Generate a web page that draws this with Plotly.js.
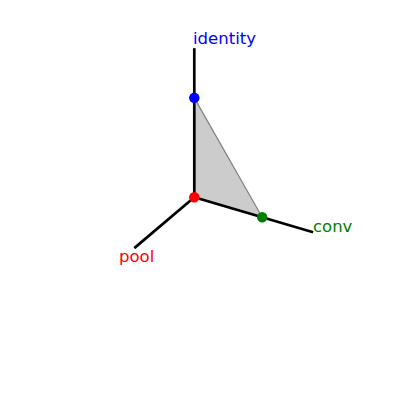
<!DOCTYPE html>
<html><head><meta charset="utf-8">
<script src="https://cdn.plot.ly/plotly-3.0.1.min.js"></script>
<style>html,body{margin:0;padding:0;background:#fff}#c{width:400px;height:400px}</style>
</head><body><div id="c"></div>
<script>
// Axis names (3D axes: pool, conv, identity)
const axisNames = ['pool', 'conv', 'identity'];
const axisColors = ['red', 'green', 'blue'];
// End of each axis line in data units
const axisEnds = [1.5, 1.75, 1.5];
// Points shown (pool, conv, identity coordinates)
const pointPool = [0, 0, 0];
const pointConv = [0, 1, 0];
const pointIdentity = [0, 0, 1];
const pointColors = ['red', 'green', 'blue'];

// View of the 3D scene (orthographic), projected onto a 2D plane
const view = {azim: 30.5 * Math.PI / 180, elev: 30 * Math.PI / 180, scale: [1, 1, 1.456]};
function project(p, c, i) {
  const [a, e, s] = [view.azim, view.elev, view.scale];
  const X = p * s[0], Y = c * s[1], Z = i * s[2];
  const h = -Math.sin(a) * X + Math.cos(a) * Y;
  const v = -Math.cos(a) * Math.sin(e) * X - Math.sin(a) * Math.sin(e) * Y + Math.cos(e) * Z;
  return [h, v];
}
function projectAll(P, C, I) {
  const hs = [], vs = [];
  for (let k = 0; k < P.length; k++) { const [h, v] = project(P[k], C[k], I[k]); hs.push(h); vs.push(v); }
  return [hs, vs];
}

const traces = [];
// filled triangle spanned by the three points
{
  const [h, v] = projectAll(pointPool.concat([pointPool[0]]), pointConv.concat([pointConv[0]]), pointIdentity.concat([pointIdentity[0]]));
  traces.push({type:'scatter', mode:'lines', x:h, y:v, fill:'toself', fillcolor:'#cccccc',
    line:{color:'#808080', width:1.2}, hoverinfo:'skip'});
}
// axis lines
for (let a = 0; a < 3; a++) {
  const e = [0, 0, 0]; e[a] = axisEnds[a];
  const [h, v] = projectAll([0, e[0]], [0, e[1]], [0, e[2]]);
  traces.push({type:'scatter', mode:'lines', x:h, y:v, line:{color:'black', width:2.7}, hoverinfo:'skip'});
}
// points
{
  const [h, v] = projectAll(pointPool, pointConv, pointIdentity);
  traces.push({type:'scatter', mode:'markers', x:h, y:v, marker:{size:10.5, color:pointColors, line:{width:0}}, hoverinfo:'skip'});
}
// labels at the axis ends
const labelAnchor = [
  {xanchor:'center', yanchor:'middle', xshift:2, yshift:-8},
  {xanchor:'left', yanchor:'middle', xshift:-2, yshift:5.5},
  {xanchor:'left', yanchor:'middle', xshift:-3, yshift:10}
];
const annotations = [];
for (let a = 0; a < 3; a++) {
  const e = [0, 0, 0]; e[a] = axisEnds[a];
  const [h, v] = project(e[0], e[1], e[2]);
  annotations.push(Object.assign({x:h, y:v, xref:'x', yref:'y', text:axisNames[a], showarrow:false,
    font:{family:'DejaVu Sans', size:16.5, color:axisColors[a]}}, labelAnchor[a]));
}

const pxPerUnit = 78.8;
const hide = {visible:false, showgrid:false, zeroline:false, fixedrange:true};
const layout = {
  width:400, height:400, margin:{l:0, r:0, t:0, b:0}, paper_bgcolor:'white', plot_bgcolor:'white',
  showlegend:false, annotations:annotations,
  xaxis:Object.assign({range:[-194.3 / pxPerUnit, (400 - 194.3) / pxPerUnit]}, hide),
  yaxis:Object.assign({range:[-(400 - 197.2) / pxPerUnit, 197.2 / pxPerUnit]}, hide)
};
Plotly.newPlot('c', traces, layout, {displayModeBar:false, staticPlot:true});
</script></body></html>
